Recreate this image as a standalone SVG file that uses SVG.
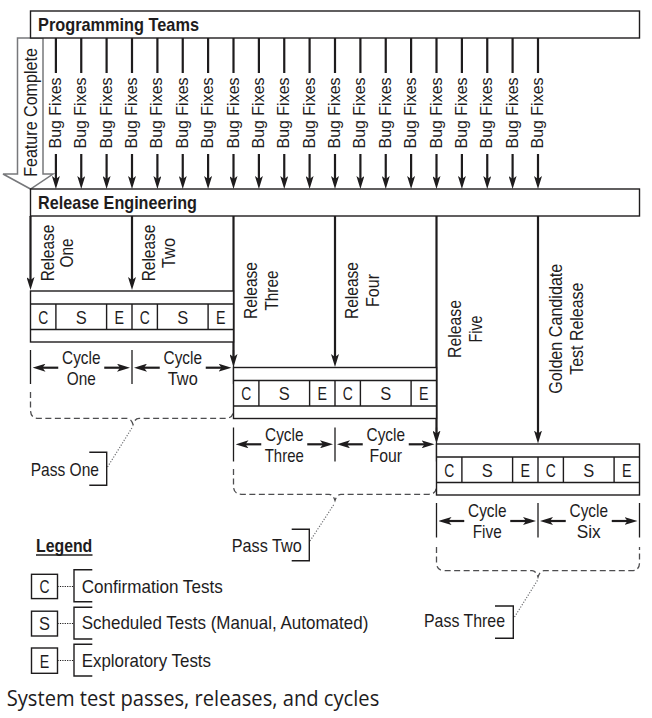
<svg xmlns="http://www.w3.org/2000/svg" width="652" height="718" viewBox="0 0 652 718">
<style>
.t{font-family:"Liberation Sans",Arial,sans-serif;font-size:19px;fill:#1e1c1d}
.m{text-anchor:middle}
.b{font-weight:bold}
.bf{font-size:17px}
.box{fill:#fff;stroke:#1e1c1d;stroke-width:1.4}
.ln{stroke:#1e1c1d;stroke-width:1.4;fill:none}
.arr{stroke:#1e1c1d;stroke-width:2.2;fill:none;marker-end:url(#ah)}
.carr{stroke:#1e1c1d;stroke-width:2.2;fill:none;marker-end:url(#ah)}
.tick{stroke:#1e1c1d;stroke-width:1.3}
.dash{fill:none;stroke:#4d4d4f;stroke-width:1.3;stroke-dasharray:6 3.5}
.dot{fill:none;stroke:#6d6e71;stroke-width:1.2;stroke-dasharray:1.2 1.6}
.ldot{fill:none;stroke:#1e1c1d;stroke-width:1;stroke-dasharray:1.2 1.2}
.cap{font-family:"Open Sans","Liberation Sans",sans-serif;font-size:22px;fill:#1e1c1d}
</style>
<defs>
<marker id="ah" markerUnits="userSpaceOnUse" viewBox="0 0 13 8" refX="7" refY="4" markerWidth="13" markerHeight="8" orient="auto">
<path d="M0,0 L13,4 L0,8 L3,4 z" fill="#1e1c1d"/>
</marker>
</defs>

<g id="feature-complete">
<polygon points="17.5,38 17.5,174 3,174 30.5,189 53,174 43,174 43,38" fill="#fff" stroke="#77787b" stroke-width="1.5"/>
<text class="t m" font-size="17.5" transform="translate(30.5,112.5) rotate(-90)" y="6.8" textLength="128.7" lengthAdjust="spacingAndGlyphs">Feature Complete</text>
</g>

<g id="programming-teams">
<rect class="box" x="30.5" y="11" width="609" height="27"/>
<text class="t b" x="38" y="30.7" font-size="18.5" textLength="161" lengthAdjust="spacingAndGlyphs">Programming Teams</text>
</g>

<g id="release-engineering">
<rect class="box" x="30.5" y="189" width="609" height="27"/>
<text class="t b" x="38" y="209.3" font-size="18.5" textLength="159" lengthAdjust="spacingAndGlyphs">Release Engineering</text>
</g>

<g id="connectors">
<g id="bug-fixes">
<path class="ln" style="stroke-width:2.2" d="M55.9,38V73M81.25,38V73M106.6,38V73M132,38V73M157.4,38V73M182.75,38V73M208.1,38V73M233.5,38V73M258.9,38V73M284.25,38V73M309.6,38V73M335,38V73M360.4,38V73M385.75,38V73M411.1,38V73M436.5,38V73M461.9,38V73M487.25,38V73M512.6,38V73M538,38V73"/>
<line class="arr" x1="55.9" y1="154" x2="55.9" y2="183"/>
<line class="arr" x1="81.25" y1="154" x2="81.25" y2="183"/>
<line class="arr" x1="106.6" y1="154" x2="106.6" y2="183"/>
<line class="arr" x1="132" y1="154" x2="132" y2="183"/>
<line class="arr" x1="157.4" y1="154" x2="157.4" y2="183"/>
<line class="arr" x1="182.75" y1="154" x2="182.75" y2="183"/>
<line class="arr" x1="208.1" y1="154" x2="208.1" y2="183"/>
<line class="arr" x1="233.5" y1="154" x2="233.5" y2="183"/>
<line class="arr" x1="258.9" y1="154" x2="258.9" y2="183"/>
<line class="arr" x1="284.25" y1="154" x2="284.25" y2="183"/>
<line class="arr" x1="309.6" y1="154" x2="309.6" y2="183"/>
<line class="arr" x1="335" y1="154" x2="335" y2="183"/>
<line class="arr" x1="360.4" y1="154" x2="360.4" y2="183"/>
<line class="arr" x1="385.75" y1="154" x2="385.75" y2="183"/>
<line class="arr" x1="411.1" y1="154" x2="411.1" y2="183"/>
<line class="arr" x1="436.5" y1="154" x2="436.5" y2="183"/>
<line class="arr" x1="461.9" y1="154" x2="461.9" y2="183"/>
<line class="arr" x1="487.25" y1="154" x2="487.25" y2="183"/>
<line class="arr" x1="512.6" y1="154" x2="512.6" y2="183"/>
<line class="arr" x1="538" y1="154" x2="538" y2="183"/>
<g class="t bf m">
<text transform="translate(55.9,113) rotate(-90)" y="5" textLength="71" lengthAdjust="spacingAndGlyphs">Bug Fixes</text>
<text transform="translate(81.25,113) rotate(-90)" y="5" textLength="71" lengthAdjust="spacingAndGlyphs">Bug Fixes</text>
<text transform="translate(106.6,113) rotate(-90)" y="5" textLength="71" lengthAdjust="spacingAndGlyphs">Bug Fixes</text>
<text transform="translate(132,113) rotate(-90)" y="5" textLength="71" lengthAdjust="spacingAndGlyphs">Bug Fixes</text>
<text transform="translate(157.4,113) rotate(-90)" y="5" textLength="71" lengthAdjust="spacingAndGlyphs">Bug Fixes</text>
<text transform="translate(182.75,113) rotate(-90)" y="5" textLength="71" lengthAdjust="spacingAndGlyphs">Bug Fixes</text>
<text transform="translate(208.1,113) rotate(-90)" y="5" textLength="71" lengthAdjust="spacingAndGlyphs">Bug Fixes</text>
<text transform="translate(233.5,113) rotate(-90)" y="5" textLength="71" lengthAdjust="spacingAndGlyphs">Bug Fixes</text>
<text transform="translate(258.9,113) rotate(-90)" y="5" textLength="71" lengthAdjust="spacingAndGlyphs">Bug Fixes</text>
<text transform="translate(284.25,113) rotate(-90)" y="5" textLength="71" lengthAdjust="spacingAndGlyphs">Bug Fixes</text>
<text transform="translate(309.6,113) rotate(-90)" y="5" textLength="71" lengthAdjust="spacingAndGlyphs">Bug Fixes</text>
<text transform="translate(335,113) rotate(-90)" y="5" textLength="71" lengthAdjust="spacingAndGlyphs">Bug Fixes</text>
<text transform="translate(360.4,113) rotate(-90)" y="5" textLength="71" lengthAdjust="spacingAndGlyphs">Bug Fixes</text>
<text transform="translate(385.75,113) rotate(-90)" y="5" textLength="71" lengthAdjust="spacingAndGlyphs">Bug Fixes</text>
<text transform="translate(411.1,113) rotate(-90)" y="5" textLength="71" lengthAdjust="spacingAndGlyphs">Bug Fixes</text>
<text transform="translate(436.5,113) rotate(-90)" y="5" textLength="71" lengthAdjust="spacingAndGlyphs">Bug Fixes</text>
<text transform="translate(461.9,113) rotate(-90)" y="5" textLength="71" lengthAdjust="spacingAndGlyphs">Bug Fixes</text>
<text transform="translate(487.25,113) rotate(-90)" y="5" textLength="71" lengthAdjust="spacingAndGlyphs">Bug Fixes</text>
<text transform="translate(512.6,113) rotate(-90)" y="5" textLength="71" lengthAdjust="spacingAndGlyphs">Bug Fixes</text>
<text transform="translate(538,113) rotate(-90)" y="5" textLength="71" lengthAdjust="spacingAndGlyphs">Bug Fixes</text>
</g>
</g>
<g id="releases">
<line class="arr" x1="30.5" y1="216" x2="30.5" y2="284"/>
<line class="arr" x1="132" y1="216" x2="132" y2="284"/>
<line class="arr" x1="233.5" y1="216" x2="233.5" y2="361"/>
<line class="arr" x1="335" y1="216" x2="335" y2="361"/>
<line class="arr" x1="436.5" y1="216" x2="436.5" y2="437.5"/>
<line class="arr" x1="538" y1="216" x2="538" y2="437.5"/>
<g class="t m">
<g transform="translate(30.5,253) rotate(-90)"><text y="23" textLength="56.5" lengthAdjust="spacingAndGlyphs">Release</text><text y="42.5" textLength="29" lengthAdjust="spacingAndGlyphs">One</text></g>
<g transform="translate(132,253) rotate(-90)"><text y="23" textLength="56.5" lengthAdjust="spacingAndGlyphs">Release</text><text y="43" textLength="30" lengthAdjust="spacingAndGlyphs">Two</text></g>
<g transform="translate(233.5,290.5) rotate(-90)"><text y="23.3" textLength="57" lengthAdjust="spacingAndGlyphs">Release</text><text y="44" textLength="40" lengthAdjust="spacingAndGlyphs">Three</text></g>
<g transform="translate(335,290.5) rotate(-90)"><text y="23.3" textLength="57" lengthAdjust="spacingAndGlyphs">Release</text><text y="44" textLength="33" lengthAdjust="spacingAndGlyphs">Four</text></g>
<g transform="translate(436.5,329) rotate(-90)"><text y="24" textLength="58" lengthAdjust="spacingAndGlyphs">Release</text><text y="45" textLength="27" lengthAdjust="spacingAndGlyphs">Five</text></g>
<g transform="translate(538,328.7) rotate(-90)"><text y="23.5" textLength="130" lengthAdjust="spacingAndGlyphs">Golden Candidate</text><text y="45" textLength="92" lengthAdjust="spacingAndGlyphs">Test Release</text></g>
</g>
</g>
<g id="cycle-spans">
<path class="tick" d="M30.5,350V384M132,350V384M233.5,350V384M233.5,427.5V461.5M335,427.5V461.5M436.5,427.5V461.5M436.5,503V537.5M538,503V537.5M639.5,503V537.5"/>
<line class="carr" x1="58.25" y1="367.7" x2="38.5" y2="367.7"/><line class="carr" x1="104.25" y1="367.7" x2="124" y2="367.7"/>
<line class="carr" x1="159.75" y1="367.7" x2="140" y2="367.7"/><line class="carr" x1="205.75" y1="367.7" x2="225.5" y2="367.7"/>
<line class="carr" x1="261.25" y1="444.3" x2="241.5" y2="444.3"/><line class="carr" x1="307.25" y1="444.3" x2="327" y2="444.3"/>
<line class="carr" x1="362.75" y1="444.3" x2="343" y2="444.3"/><line class="carr" x1="408.75" y1="444.3" x2="428.5" y2="444.3"/>
<line class="carr" x1="464.25" y1="521" x2="444.5" y2="521"/><line class="carr" x1="510.25" y1="521" x2="530" y2="521"/>
<line class="carr" x1="565.75" y1="521" x2="546" y2="521"/><line class="carr" x1="611.75" y1="521" x2="631.5" y2="521"/>
</g>
<g id="pass-brackets">
<path class="dash" d="M30.5,392V410Q30.5,418.3 38.5,418.3H127Q131,418.3 133,424.5Q135,418.3 139,418.3H225.5Q233.5,418.3 233.5,410"/>
<path class="dash" d="M233.5,469V486Q233.5,494.3 241.5,494.3H329Q333,494.3 335,500.5Q337,494.3 341,494.3H428.5Q436.5,494.3 436.5,486"/>
<path class="dash" d="M436.5,547V562.7Q436.5,570.7 444.5,570.7H532Q536,570.7 538,577Q540,570.7 544,570.7H631.5Q639.5,570.7 639.5,562.7V547"/>
<path class="dot" d="M107.5,467L132.5,427M310,541L334.5,503.5M514.5,617L538,579.5"/>
</g>
<path class="ldot" d="M57.5,586.5H74M57.5,623.5H74M57.5,660.5H74"/>
</g>

<g id="cycle-box-1">
<rect class="box" x="30.5" y="291" width="203" height="51"/>
<path class="ln" d="M30.5,304H233.5M30.5,329.5H233.5M55.9,304V329.5M106.6,304V329.5M132,304V329.5M157.4,304V329.5M208.1,304V329.5"/>
<g class="t m">
<text x="43.2" y="323.7" textLength="10" lengthAdjust="spacingAndGlyphs">C</text>
<text x="81.25" y="323.7" textLength="11" lengthAdjust="spacingAndGlyphs">S</text>
<text x="119.3" y="323.7" textLength="9.5" lengthAdjust="spacingAndGlyphs">E</text>
<text x="144.7" y="323.7" textLength="10" lengthAdjust="spacingAndGlyphs">C</text>
<text x="182.75" y="323.7" textLength="11" lengthAdjust="spacingAndGlyphs">S</text>
<text x="220.8" y="323.7" textLength="9.5" lengthAdjust="spacingAndGlyphs">E</text>
</g>
</g>

<g id="cycle-box-2">
<rect class="box" x="233.5" y="367.5" width="203" height="51"/>
<path class="ln" d="M233.5,380.5H436.5M233.5,406H436.5M258.9,380.5V406M309.6,380.5V406M335,380.5V406M360.4,380.5V406M411.1,380.5V406"/>
<g class="t m">
<text x="246.2" y="400.4" textLength="10" lengthAdjust="spacingAndGlyphs">C</text>
<text x="284.25" y="400.4" textLength="11" lengthAdjust="spacingAndGlyphs">S</text>
<text x="322.3" y="400.4" textLength="9.5" lengthAdjust="spacingAndGlyphs">E</text>
<text x="347.7" y="400.4" textLength="10" lengthAdjust="spacingAndGlyphs">C</text>
<text x="385.75" y="400.4" textLength="11" lengthAdjust="spacingAndGlyphs">S</text>
<text x="423.8" y="400.4" textLength="9.5" lengthAdjust="spacingAndGlyphs">E</text>
</g>
</g>

<g id="cycle-box-3">
<rect class="box" x="436.5" y="444" width="203" height="51"/>
<path class="ln" d="M436.5,457H639.5M436.5,482.5H639.5M461.9,457V482.5M512.6,457V482.5M538,457V482.5M563.4,457V482.5M614.1,457V482.5"/>
<g class="t m">
<text x="449.2" y="476.9" textLength="10" lengthAdjust="spacingAndGlyphs">C</text>
<text x="487.25" y="476.9" textLength="11" lengthAdjust="spacingAndGlyphs">S</text>
<text x="525.3" y="476.9" textLength="9.5" lengthAdjust="spacingAndGlyphs">E</text>
<text x="550.7" y="476.9" textLength="10" lengthAdjust="spacingAndGlyphs">C</text>
<text x="588.75" y="476.9" textLength="11" lengthAdjust="spacingAndGlyphs">S</text>
<text x="626.8" y="476.9" textLength="9.5" lengthAdjust="spacingAndGlyphs">E</text>
</g>
</g>

<g id="cycle-labels" class="t m">
<text x="81.25" y="364" textLength="38.4" lengthAdjust="spacingAndGlyphs">Cycle</text><text x="81.25" y="385" textLength="29" lengthAdjust="spacingAndGlyphs">One</text>
<text x="182.75" y="364" textLength="38.4" lengthAdjust="spacingAndGlyphs">Cycle</text><text x="182.75" y="385" textLength="30" lengthAdjust="spacingAndGlyphs">Two</text>
<text x="284.25" y="440.6" textLength="38.4" lengthAdjust="spacingAndGlyphs">Cycle</text><text x="284.25" y="461.6" textLength="39" lengthAdjust="spacingAndGlyphs">Three</text>
<text x="385.75" y="440.6" textLength="38.4" lengthAdjust="spacingAndGlyphs">Cycle</text><text x="385.75" y="461.6" textLength="32.5" lengthAdjust="spacingAndGlyphs">Four</text>
<text x="487.25" y="517" textLength="38.4" lengthAdjust="spacingAndGlyphs">Cycle</text><text x="487.25" y="538.2" textLength="29" lengthAdjust="spacingAndGlyphs">Five</text>
<text x="588.75" y="517" textLength="38.4" lengthAdjust="spacingAndGlyphs">Cycle</text><text x="588.75" y="538.2" textLength="24" lengthAdjust="spacingAndGlyphs">Six</text>
</g>

<g id="pass-one">
<path class="ln" d="M89.3,452.3H106.7V485.3H89.3"/>
<text class="t" x="30.7" y="475.7" textLength="68.3" lengthAdjust="spacingAndGlyphs">Pass One</text>
</g>
<g id="pass-two">
<path class="ln" d="M291.7,529.3H309.3V560.7H291.7"/>
<text class="t" x="231.7" y="551.7" textLength="70" lengthAdjust="spacingAndGlyphs">Pass Two</text>
</g>
<g id="pass-three">
<path class="ln" d="M495,606H513.3V638.3H495"/>
<text class="t" x="424" y="626.7" textLength="81" lengthAdjust="spacingAndGlyphs">Pass Three</text>
</g>

<g id="legend">
<text class="t b" x="36" y="551.7" font-size="18.5" textLength="56.3" lengthAdjust="spacingAndGlyphs">Legend</text>
<line class="ln" x1="36" y1="555" x2="92.5" y2="555" style="stroke-width:1.3"/>
<g id="legend-c">
<rect class="box" x="31.5" y="574.3" width="26" height="24.3"/>
<text class="t m" x="44.5" y="593.3" textLength="10" lengthAdjust="spacingAndGlyphs">C</text>
<path class="ln" d="M92.3,569.7H74V601.7H92.3"/>
<text class="t" x="81.7" y="592.7" textLength="141" lengthAdjust="spacingAndGlyphs">Confirmation Tests</text>
</g>
<g id="legend-s">
<rect class="box" x="31.5" y="611.2" width="26" height="24.8"/>
<text class="t m" x="44.5" y="630" textLength="11" lengthAdjust="spacingAndGlyphs">S</text>
<path class="ln" d="M92.3,607.3H74V639H92.3"/>
<text class="t" x="81.7" y="629.3" textLength="286.6" lengthAdjust="spacingAndGlyphs">Scheduled Tests (Manual, Automated)</text>
</g>
<g id="legend-e">
<rect class="box" x="31.5" y="648" width="26" height="25.3"/>
<text class="t m" x="44.5" y="667.5" textLength="9.5" lengthAdjust="spacingAndGlyphs">E</text>
<path class="ln" d="M92.3,644.3H74V676H92.3"/>
<text class="t" x="81.7" y="666.7" textLength="129.3" lengthAdjust="spacingAndGlyphs">Exploratory Tests</text>
</g>
</g>

<text class="cap" x="6.7" y="706" textLength="372.6" lengthAdjust="spacingAndGlyphs">System test passes, releases, and cycles</text>
</svg>
